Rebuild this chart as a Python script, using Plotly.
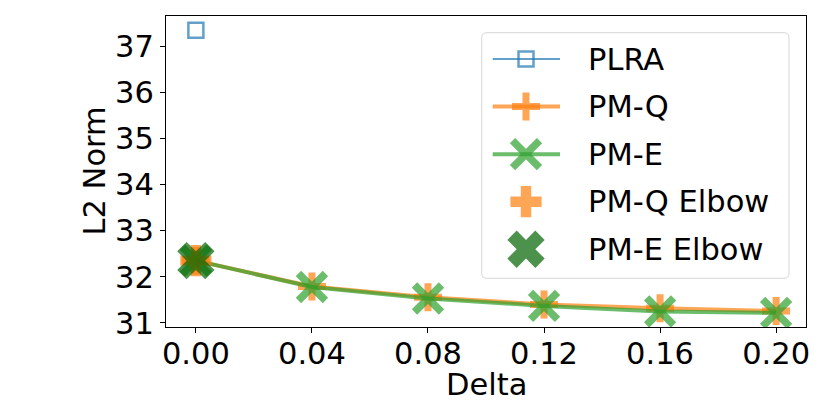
import plotly.graph_objects as go

# данные
delta = [0.00, 0.04, 0.08, 0.12, 0.16, 0.20]
plra_delta = [0.00]
plra_l2 = [37.34]
pmq_l2 = [32.35, 31.79, 31.56, 31.40, 31.32, 31.26]
pme_l2 = [32.35, 31.78, 31.53, 31.37, 31.25, 31.22]
elbow_delta = [0.00]
pmq_elbow = [32.35]
pme_elbow = [32.35]
x_ticks = [0.00, 0.04, 0.08, 0.12, 0.16, 0.20]
x_tick_labels = ["0.00", "0.04", "0.08", "0.12", "0.16", "0.20"]
y_ticks = [31, 32, 33, 34, 35, 36, 37]
legend_names = ["PLRA", "PM-Q", "PM-E", "PM-Q Elbow", "PM-E Elbow"]

BLUE = "rgba(31,119,180,0.7)"
ORANGE = "rgba(255,127,14,0.7)"
GREEN = "rgba(44,160,44,0.7)"
DARKGREEN = "rgba(0,100,0,0.7)"
FONT = "DejaVu Sans"
FS = 30.5

# стили серий: (ширина линии или None, символ, размер, ширина контура, цвет)
styles = [
    (2, "square-open", 15, 2.5, BLUE),
    (4, "cross-thin-open", 20, 7, ORANGE),
    (4, "x-thin-open", 27, 7.5, GREEN),
    (None, "cross", 26, 0, ORANGE),
    (None, "x", 33, 0, DARKGREEN),
]
series = [
    (plra_delta, plra_l2),
    (delta, pmq_l2),
    (delta, pme_l2),
    (elbow_delta, pmq_elbow),
    (elbow_delta, pme_elbow),
]


def marker_of(sym, size, lw, color):
    return dict(symbol=sym, size=size, color=color, line=dict(width=lw, color=color))


fig = go.Figure()

for (xs, ys), (lw_line, sym, size, lw, color), name in zip(series, styles, legend_names):
    fig.add_trace(go.Scatter(
        x=xs, y=ys, name=name,
        mode="lines+markers" if lw_line else "markers",
        line=dict(color=color, width=lw_line or 0),
        marker=marker_of(sym, size, lw, color),
        showlegend=False,
    ))

# область графика в пикселях окна (страница имеет отступ body 8px)
PAGE_OFF = 8
PX_L, PX_R, PX_T, PX_B = 166, 806, 16, 326.7

# легенда в стиле matplotlib, рисуется вручную на вспомогательных осях (пиксели)
box_l, box_r, box_t, box_b, rad = 481.7, 789, 32.7, 278, 5
row0, row_step = 59, 47.5
h_l, h_r, h_c, txt_x = 492.7, 560, 526, 586

path = (f"M{box_l + rad},{box_t} L{box_r - rad},{box_t} Q{box_r},{box_t} {box_r},{box_t + rad} "
        f"L{box_r},{box_b - rad} Q{box_r},{box_b} {box_r - rad},{box_b} "
        f"L{box_l + rad},{box_b} Q{box_l},{box_b} {box_l},{box_b - rad} "
        f"L{box_l},{box_t + rad} Q{box_l},{box_t} {box_l + rad},{box_t} Z")
fig.add_shape(type="path", path=path, xref="x2", yref="y2", layer="below",
              fillcolor="white", line=dict(color="#d6d6d6", width=1))

for i, ((lw_line, sym, size, lw, color), name) in enumerate(zip(styles, legend_names)):
    yy = row0 + i * row_step
    if lw_line:
        fig.add_trace(go.Scatter(
            x=[h_l, h_r], y=[yy, yy], xaxis="x2", yaxis="y2", mode="lines",
            line=dict(color=color, width=lw_line), showlegend=False, hoverinfo="skip",
        ))
    fig.add_trace(go.Scatter(
        x=[h_c], y=[yy], xaxis="x2", yaxis="y2", mode="markers",
        marker=marker_of(sym, size, lw, color), showlegend=False, hoverinfo="skip",
    ))
    fig.add_annotation(x=txt_x, y=yy, xref="x2", yref="y2", text=name, showarrow=False,
                       xanchor="left", yanchor="middle", font=dict(family=FONT, size=FS, color="black"))


def to_paper_x(px):
    return (px - PX_L) / (PX_R - PX_L)


def to_paper_y(py):
    return (PX_B - py) / (PX_B - PX_T)


# подписи осей
fig.add_annotation(x=0.5, y=to_paper_y(384.5), xref="paper", yref="paper", text="Delta",
                   showarrow=False, xanchor="center", yanchor="middle",
                   font=dict(family=FONT, size=FS, color="black"))
fig.add_annotation(x=to_paper_x(94), y=0.5, xref="paper", yref="paper", text="L2 Norm",
                   showarrow=False, xanchor="center", yanchor="middle", textangle=-90,
                   font=dict(family=FONT, size=FS, color="black"))

fig.update_layout(
    width=830 - PAGE_OFF, height=415 - PAGE_OFF,
    margin=dict(l=PX_L - PAGE_OFF, r=830 - PX_R, t=PX_T - PAGE_OFF, b=415 - PX_B),
    plot_bgcolor="white", paper_bgcolor="white",
    font=dict(family=FONT, size=FS, color="black"),
    showlegend=False,
    xaxis=dict(
        range=[-0.0103, 0.2103], tickvals=x_ticks, ticktext=x_tick_labels,
        showgrid=False, zeroline=False, showline=True, linecolor="black", linewidth=1,
        mirror=True, ticks="outside", ticklen=5, tickcolor="black",
        tickfont=dict(size=FS), automargin=False, ticklabelstandoff=-6,
    ),
    yaxis=dict(
        range=[30.913, 37.65], tickvals=y_ticks,
        showgrid=False, zeroline=False, showline=True, linecolor="black", linewidth=1,
        mirror=True, ticks="outside", ticklen=5, tickcolor="black",
        tickfont=dict(size=FS), automargin=False,
    ),
    xaxis2=dict(overlaying="x", range=[PX_L, PX_R], visible=False, fixedrange=True),
    yaxis2=dict(overlaying="y", range=[PX_B, PX_T], visible=False, fixedrange=True),
)

fig.write_html("out.html")
